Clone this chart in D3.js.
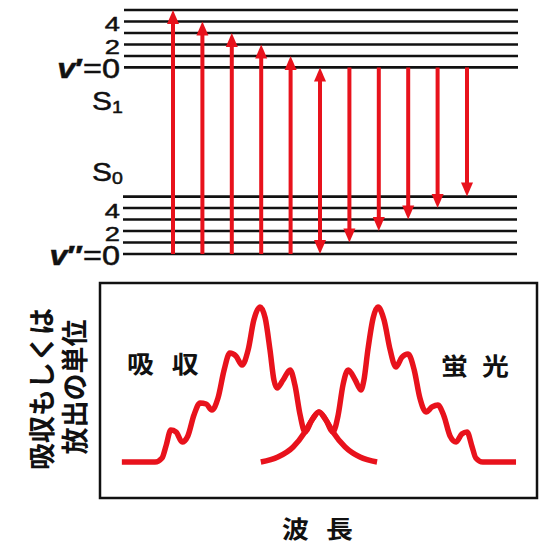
<!DOCTYPE html>
<html>
<head>
<meta charset="utf-8">
<script src="https://cdnjs.cloudflare.com/ajax/libs/d3/7.8.5/d3.min.js"></script>
<style>
  body { margin: 0; background: #fff; }
  text { font-family: "Liberation Sans", Arial, sans-serif; fill: #111; }
  .jp { font-family: "Noto Sans CJK JP", sans-serif; }
</style>
</head>
<body>
<script>

var levels = [0, 1, 2, 3, 4, 5]
var upperTicks = ["0", "", "2", "", "4", ""]
var lowerTicks = ["0", "", "2", "", "4", ""]
var e00 = 16.25            // S1 v'=0 above S0 v''=0, in vibrational quanta
var absorbTo = [5, 4, 3, 2, 1, 0]   // v''=0 -> v'
var emitTo = [0, 1, 2, 3, 4, 5]     // v'=0 -> v''

// spectra: wavelength (box units 0-100), intensity (0-100)
var absWl  = [5.0, 12.6, 14.2, 15.1, 16.2, 17.4, 18.8, 20.1, 21.5, 22.9, 24.3, 25.6, 27.0, 28.4, 29.7, 31.1, 32.5, 33.9, 35.2, 36.6, 37.8, 38.9, 39.8, 40.5, 41.9, 43.5, 44.6, 45.8, 46.9, 48.5, 50.1, 51.7, 53.3, 56.1, 59.5, 63.4]
var absInt = [0, 0, 2.6, 10.3, 20.6, 19.4, 12.9, 16.8, 30.3, 38.1, 37.4, 33.5, 41.3, 59.4, 70.3, 68.4, 62.6, 72.3, 91.6, 100, 92.9, 72.3, 52.9, 47.7, 52.9, 59.4, 49.7, 30.3, 19.4, 27.1, 32.3, 27.1, 19.4, 9.7, 3.2, 0]
var emWl   = [36.8, 40.7, 44.2, 46.9, 48.5, 50.1, 51.7, 53.3, 54.5, 55.6, 56.8, 58.4, 59.7, 60.4, 61.3, 62.5, 63.6, 65.0, 66.4, 67.7, 69.1, 70.5, 71.9, 73.2, 74.6, 76.0, 77.3, 78.7, 80.1, 81.5, 82.8, 84.0, 85.1, 86.0, 87.6, 95.2]
var emInt  = [0, 3.2, 9.7, 19.4, 27.1, 32.3, 27.1, 19.4, 30.3, 49.7, 59.4, 52.9, 46.5, 52.9, 72.3, 92.9, 100, 91.6, 72.3, 61.3, 67.7, 69.7, 59.4, 41.3, 32.3, 35.5, 36.8, 29.7, 16.8, 12.9, 18.1, 19.4, 10.3, 2.6, 0, 0]

var red = "#e8121c"

var svg = d3.select("body")
  .append("svg")
  .attr("width", 540)
  .attr("height", 545)

// ---- energy level diagram ----
var yE = d3.scaleLinear().domain([0, e00 + 5]).range([254, 10])
var xA = d3.scalePoint().domain(d3.range(11)).range([173, 467])

svg.selectAll("line.upper")
  .data(levels)
  .enter().append("line")
  .attr("x1", 124).attr("x2", 518)
  .attr("y1", function(d) { return yE(e00 + d) })
  .attr("y2", function(d) { return yE(e00 + d) })
  .attr("stroke", "#111").attr("stroke-width", 2.6)

svg.selectAll("line.lower")
  .data(levels)
  .enter().append("line")
  .attr("x1", 123).attr("x2", 517)
  .attr("y1", function(d) { return yE(d) })
  .attr("y2", function(d) { return yE(d) })
  .attr("stroke", "#111").attr("stroke-width", 2.6)

// labels in the original are set in a wide, slightly heavy face
function wideText(x, y, sx, size) {
  return svg.append("text")
    .attr("transform", "translate(" + x + "," + y + ") scale(" + sx + ",1)")
    .attr("font-size", size)
    .attr("stroke", "#111").attr("stroke-width", 0.5)
}

function tickLabel(d, i, prime, base) {
  if (!d) return
  var big = i == 0
  var t = wideText(120, yE(base + i) + (big ? 11 : 10), big ? 1.2 : 1.3, big ? 27 : 21)
    .attr("text-anchor", "end")
  if (big) {
    t.append("tspan").attr("font-style", "italic").attr("font-weight", "bold").text("v")
    t.append("tspan").attr("font-weight", "bold").text(prime)
    t.append("tspan").text("=")
  }
  t.append("tspan").text(d)
}
upperTicks.forEach(function(d, i) { tickLabel(d, i, "\u2032", e00) })
lowerTicks.forEach(function(d, i) { tickLabel(d, i, "\u2033", 0) })

var states = [["1", 110], ["0", 181]]
states.forEach(function(s) {
  var t = wideText(92, s[1], 1.15, 26)
  t.append("tspan").text("S")
  t.append("tspan").attr("font-size", 17).attr("dy", 3).text(s[0])
})

var arrows = []
absorbTo.forEach(function(v, i) {
  arrows.push({ i: i, y1: yE(0), y2: yE(e00 + v), both: v == 0 })
})
emitTo.forEach(function(v, i) {
  if (v == 0) return
  arrows.push({ i: i + 5, y1: yE(e00), y2: yE(v), both: false })
})

var hl = 14, hw = 6
arrows.forEach(function(a) {
  var x = xA(a.i)
  var dir = a.y2 > a.y1 ? 1 : -1
  svg.append("line")
    .attr("x1", x).attr("x2", x)
    .attr("y1", a.both ? a.y1 + dir * (hl - 2) : a.y1)
    .attr("y2", a.y2 - dir * (hl - 2))
    .attr("stroke", red).attr("stroke-width", 4)
  var heads = [[a.y2, dir]]
  if (a.both) heads.push([a.y1, -dir])
  heads.forEach(function(h) {
    svg.append("polygon")
      .attr("points", [[x, h[0]], [x - hw, h[0] - h[1] * hl], [x + hw, h[0] - h[1] * hl]].join(" "))
      .attr("fill", red)
  })
})

// ---- spectra ----
var x = d3.scaleLinear().domain([0, 100]).range([100, 537])
var y = d3.scaleLinear().domain([0, 100]).range([462, 307])

svg.append("rect")
  .attr("x", x(0)).attr("y", 283)
  .attr("width", x(100) - x(0)).attr("height", 215)
  .attr("fill", "none").attr("stroke", "#111").attr("stroke-width", 2.5)

var line = d3.line()
  .x(function(d) { return x(d[0]) })
  .y(function(d) { return y(d[1]) })
  .curve(d3.curveMonotoneX)

svg.append("path")
  .attr("d", line(d3.zip(absWl, absInt)))
  .attr("fill", "none").attr("stroke", red).attr("stroke-width", 5.5)

svg.append("path")
  .attr("d", line(d3.zip(emWl, emInt)))
  .attr("fill", "none").attr("stroke", red).attr("stroke-width", 5.5)

var jpLabels = [["吸収", 127, 373, 16], ["蛍光", 441, 375, 12.6], ["波長", 282, 538, 15.3]]
jpLabels.forEach(function(d) {
  wideText(d[1], d[2], 1.12, 24)
    .attr("class", "jp")
    .attr("stroke", null)
    .attr("font-weight", "bold")
    .attr("letter-spacing", d[3])
    .text(d[0])
})

var ylab = [["吸収もしくは", 40, 389], ["放出の単位", 73, 387]]
ylab.forEach(function(d) {
  svg.append("text").attr("class", "jp")
    .attr("transform", "translate(" + d[1] + "," + d[2] + ") rotate(-90)")
    .attr("text-anchor", "middle")
    .attr("dominant-baseline", "central")
    .attr("font-size", 27).attr("font-weight", "bold")
    .text(d[0])
})

</script>
</body>
</html>
